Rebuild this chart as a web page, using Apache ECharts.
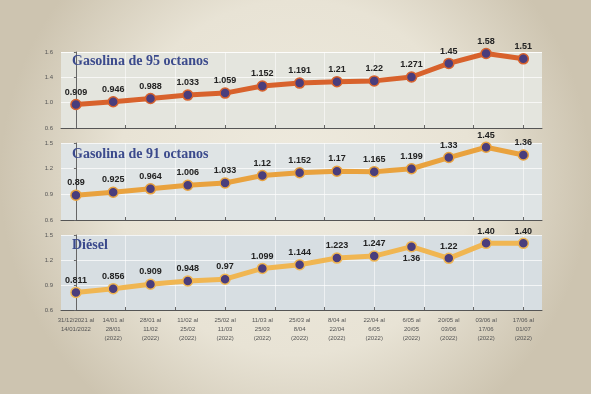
<!DOCTYPE html>
<html><head><meta charset="utf-8">
<script src="https://cdn.jsdelivr.net/npm/echarts@6/dist/echarts.min.js"></script>
<style>html,body{margin:0;padding:0;background:#e6e0d0;}#c{width:591px;height:394px;}</style>
</head><body><div id="c"></div>
<script>
const periods = [
  "31/12/2021 al\n14/01/2022", "14/01 al\n28/01\n(2022)", "28/01 al\n11/02\n(2022)",
  "11/02 al\n25/02\n(2022)", "25/02 al\n11/03\n(2022)", "11/03 al\n25/03\n(2022)",
  "25/03 al\n8/04\n(2022)", "8/04 al\n22/04\n(2022)", "22/04 al\n6/05\n(2022)",
  "6/05 al\n20/05\n(2022)", "20/05 al\n03/06\n(2022)", "03/06 al\n17/06\n(2022)",
  "17/06 al\n01/07\n(2022)"
];
const titles = ["Gasolina de 95 octanos", "Gasolina de 91 octanos", "Diésel"];
const gas95 = [0.909, 0.946, 0.988, 1.033, 1.059, 1.152, 1.191, 1.21, 1.22, 1.271, 1.45, 1.58, 1.51];
const gas91 = [0.89, 0.925, 0.964, 1.006, 1.033, 1.12, 1.152, 1.17, 1.165, 1.199, 1.33, 1.45, 1.36];
const diesel = [0.811, 0.856, 0.909, 0.948, 0.97, 1.099, 1.144, 1.223, 1.247, 1.36, 1.22, 1.40, 1.40];
const ticks95 = ["0.6", "1.0", "1.4", "1.6"];
const ticks91 = ["0.6", "0.9", "1.2", "1.5"];
const ticksDiesel = ["0.6", "0.9", "1.2", "1.5"];

const lineColors = ["#d8622c", "#e9a23e", "#f0b652"];
const plotBg = ["#e4e5de", "#dfe4e5", "#d7dee2"];
const gridPos = [{top: 52, height: 76}, {top: 143, height: 77}, {top: 235, height: 75}];
const titleTop = [54, 147, 238];
const yRanges = [{min: 0.6, max: 1.6, interval: 1/3}, {min: 0.6, max: 1.5, interval: 0.3}, {min: 0.6, max: 1.5, interval: 0.3}];
const tickSets = [ticks95, ticks91, ticksDiesel];
const seriesData = [gas95, gas91, diesel];
const n = periods.length;
const xTickVals = [];
for (let i = 0; i <= 9; i++) xTickVals.push(i * (n - 1) / 9);
const labelVals = periods.map((p, i) => i);

function fmtVal(v) {
  let s = String(v);
  if (/^\d+\.\d$/.test(s)) s += "0";
  return s;
}

const grids = [], xAxes = [], yAxes = [], series = [], title = [];
for (let k = 0; k < 3; k++) {
  grids.push({left: 61, right: 49, top: gridPos[k].top, height: gridPos[k].height,
    show: true, backgroundColor: plotBg[k], borderWidth: 0});
  xAxes.push({
    type: 'value', gridIndex: k, min: -0.4, max: n - 0.5,
    axisLine: {show: true, lineStyle: {color: '#555', width: 1}},
    axisTick: {show: true, inside: true, length: 3, customValues: xTickVals, lineStyle: {color: '#666'}},
    splitLine: {show: true, lineStyle: {color: 'rgba(255,255,255,0.55)', width: 1}},
    axisLabel: {show: k === 2, customValues: labelVals, interval: 0,
      formatter: v => periods[Math.round(v)] || '',
      fontSize: 6, color: '#555', lineHeight: 9, fontFamily: 'Liberation Sans', margin: 6}
  });
  const r = yRanges[k];
  const ts = tickSets[k];
  yAxes.push({
    type: 'value', gridIndex: k, min: r.min, max: r.max, interval: r.interval,
    axisLine: {show: true, lineStyle: {color: '#666', width: 1}},
    axisTick: {show: true, length: 2, lineStyle: {color: '#666'}},
    splitLine: {show: true, lineStyle: {color: 'rgba(255,255,255,0.7)', width: 1}},
    axisLabel: {fontSize: 6, color: '#555', margin: 8, fontFamily: 'Liberation Sans',
      formatter: v => ts[Math.round((v - r.min) / r.interval)] || ''}
  });
  const data = seriesData[k].map((v, i) => [i, v]);
  series.push({
    type: 'line', xAxisIndex: k, yAxisIndex: k, data: data,
    lineStyle: {color: lineColors[k], width: 5},
    symbol: 'circle', symbolSize: 10,
    itemStyle: {color: '#4a3d7c', borderColor: lineColors[k], borderWidth: 1.5},
    label: {show: true, position: 'top', distance: 2,
      fontSize: 9, fontWeight: 'bold', color: '#222', fontFamily: 'Liberation Sans',
      formatter: p => fmtVal(p.value[1])},
    animation: false, z: 3
  });
  title.push({text: titles[k], left: 72, top: titleTop[k], padding: 0,
    textStyle: {fontFamily: 'Liberation Serif', fontWeight: 'bold', fontSize: 14, color: '#3b4a8c'}});
}
// Diesel label at index 9 printed below the point
series[2].data[9] = {value: [9, diesel[9]], label: {position: 'bottom'}};

const chart = echarts.init(document.getElementById('c'), null, {renderer: 'canvas'});
chart.setOption({
  animation: false,
  backgroundColor: {type: 'radial', x: 0.5, y: 0.45, r: 0.75,
    colorStops: [{offset: 0, color: '#eeeade'}, {offset: 0.6, color: '#e8e3d5'}, {offset: 1, color: '#cdc4b0'}]},
  title: title, grid: grids, xAxis: xAxes, yAxis: yAxes, series: series
});
</script></body></html>
